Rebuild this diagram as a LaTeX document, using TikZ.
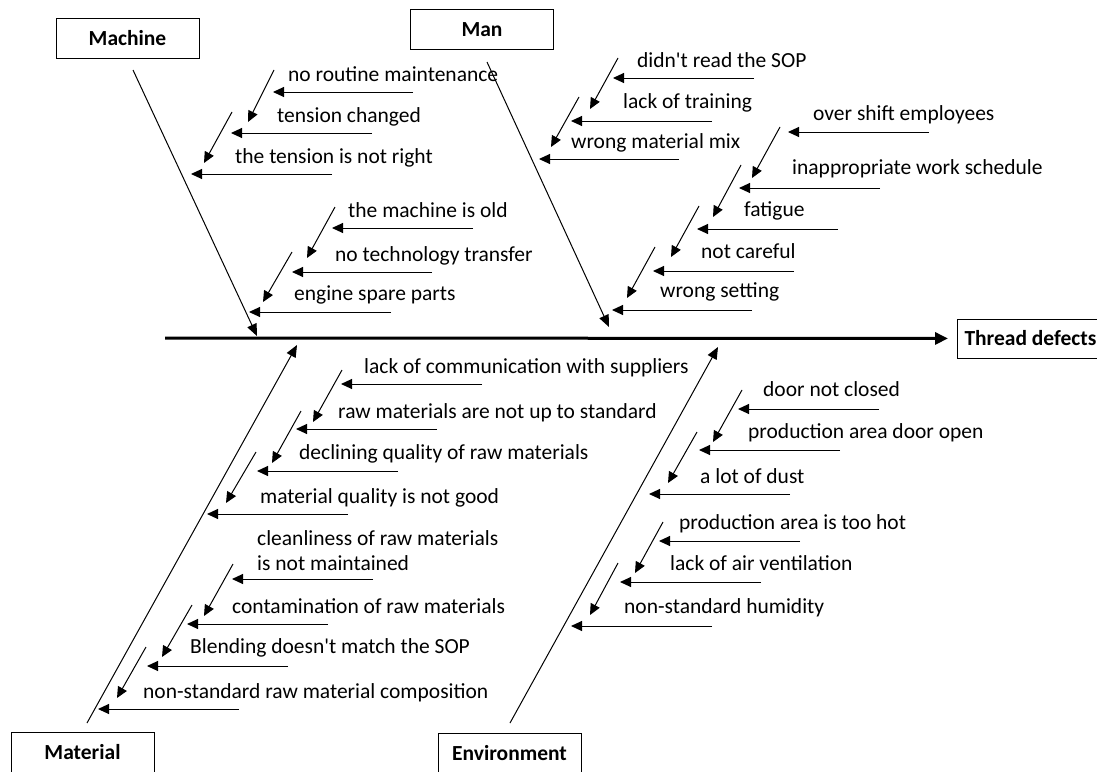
\documentclass[tikz,border=0pt]{standalone}
\usepackage{fontspec}
\setmainfont{Carlito}
\usepackage{tikz}
\usetikzlibrary{arrows.meta}

\begin{document}
\begin{tikzpicture}[
  x=1pt,y=-1pt,
  font=\fontsize{21.5}{25}\selectfont,
  head/.style={draw,line width=1pt,font=\fontsize{21.5}{25}\selectfont\bfseries,minimum width=143pt,minimum height=40pt,inner sep=0pt},
  lbl/.style={anchor=west,inner sep=0pt,text height=14pt,text depth=4pt},
  arr/.style={-{Triangle[length=11pt,width=10pt]},line width=1pt},
  bone/.style={-{Triangle[length=12pt,width=10pt]},line width=1pt},
  spine/.style={-{Triangle[length=13pt,width=12pt]},line width=3pt}
]
  \useasboundingbox (0,0) rectangle (1097,771);

  % category boxes and effect
  \node[head] (machine) at (127.5,38) {Machine};
  \node[head] (man) at (482,29.5) {Man};
  \node[head] (material) at (82.5,752) {Material};
  \node[head] (environment) at (509.5,753) {Environment};
  \node[head,anchor=west,minimum width=0pt,minimum height=39pt,inner xsep=7pt] (effect) at (957,338.5) {Thread defects};

  % main spine and bones
  \coordinate (tail) at (165,338);
  \draw[spine,shorten >=9pt] (tail) -- (effect);
  \coordinate (mcA) at (133,70);  \coordinate (mcB) at (257,336);
  \coordinate (mnA) at (487,62);  \coordinate (mnB) at (609,327);
  \coordinate (mtA) at (87,723);  \coordinate (mtB) at (297,345);
  \coordinate (enA) at (510,723); \coordinate (enB) at (718,347);
  \draw[bone] (mcA) -- (mcB);
  \draw[bone] (mnA) -- (mnB);
  \draw[bone] (mtA) -- (mtB);
  \draw[bone] (enA) -- (enB);

  % Machine
  \node[lbl] (mc1) at (288,76) {no routine maintenance};
  \node[lbl] (mc2) at (277,117) {tension changed};
  \node[lbl] (mc3) at (235,158) {the tension is not right};
  \node[lbl] (mc4) at (348,212) {the machine is old};
  \node[lbl] (mc5) at (335,256) {no technology transfer};
  \node[lbl] (mc6) at (294,295) {engine spare parts};
  \coordinate (mc1s) at (413,92);  \coordinate (mc1e) at (273,92);
  \coordinate (mc2s) at (372,133); \coordinate (mc2e) at (231,133);
  \coordinate (mc3s) at (332,174); \coordinate (mc3e) at (191,174);
  \coordinate (mc4s) at (473,228); \coordinate (mc4e) at (332,228);
  \coordinate (mc5s) at (432,272); \coordinate (mc5e) at (292,272);
  \coordinate (mc6s) at (391,312); \coordinate (mc6e) at (249,312);
  \coordinate (mc1a) at (274,70);  \coordinate (mc1b) at (248,122);
  \coordinate (mc2a) at (232,112); \coordinate (mc2b) at (204,163);
  \coordinate (mc4a) at (335,207); \coordinate (mc4b) at (307,258);
  \coordinate (mc5a) at (292,252); \coordinate (mc5b) at (263,302);
  \draw[arr] (mc1s) -- (mc1e);
  \draw[arr] (mc2s) -- (mc2e);
  \draw[arr] (mc3s) -- (mc3e);
  \draw[arr] (mc4s) -- (mc4e);
  \draw[arr] (mc5s) -- (mc5e);
  \draw[arr] (mc6s) -- (mc6e);
  \draw[arr] (mc1a) -- (mc1b);
  \draw[arr] (mc2a) -- (mc2b);
  \draw[arr] (mc4a) -- (mc4b);
  \draw[arr] (mc5a) -- (mc5b);

  % Man
  \node[lbl] (mn1) at (637,62) {didn\textquotesingle t read the SOP};
  \node[lbl] (mn2) at (623,103) {lack of training};
  \node[lbl] (mn3) at (571,143) {wrong material mix};
  \node[lbl] (mn4) at (813,115) {over shift employees};
  \node[lbl] (mn5) at (792,169) {inappropriate work schedule};
  \node[lbl] (mn6) at (744,211) {fatigue};
  \node[lbl] (mn7) at (701,253) {not careful};
  \node[lbl] (mn8) at (660,292) {wrong setting};
  \coordinate (mn1s) at (754,78);  \coordinate (mn1e) at (613,78);
  \coordinate (mn2s) at (712,121); \coordinate (mn2e) at (571,121);
  \coordinate (mn3s) at (679,159); \coordinate (mn3e) at (539,159);
  \coordinate (mn4s) at (929,132); \coordinate (mn4e) at (788,132);
  \coordinate (mn5s) at (880,188); \coordinate (mn5e) at (739,188);
  \coordinate (mn6s) at (838,229); \coordinate (mn6e) at (697,229);
  \coordinate (mn7s) at (794,271); \coordinate (mn7e) at (653,271);
  \coordinate (mn8s) at (752,310); \coordinate (mn8e) at (612,310);
  \coordinate (mn1a) at (618,58);  \coordinate (mn1b) at (590,109);
  \coordinate (mn2a) at (579,97);  \coordinate (mn2b) at (551,147);
  \coordinate (mn4a) at (780,127); \coordinate (mn4b) at (752,178);
  \coordinate (mn5a) at (741,165); \coordinate (mn5b) at (713,217);
  \coordinate (mn6a) at (699,206); \coordinate (mn6b) at (671,257);
  \coordinate (mn7a) at (655,247); \coordinate (mn7b) at (627,298);
  \draw[arr] (mn1s) -- (mn1e);
  \draw[arr] (mn2s) -- (mn2e);
  \draw[arr] (mn3s) -- (mn3e);
  \draw[arr] (mn4s) -- (mn4e);
  \draw[arr] (mn5s) -- (mn5e);
  \draw[arr] (mn6s) -- (mn6e);
  \draw[arr] (mn7s) -- (mn7e);
  \draw[arr] (mn8s) -- (mn8e);
  \draw[arr] (mn1a) -- (mn1b);
  \draw[arr] (mn2a) -- (mn2b);
  \draw[arr] (mn4a) -- (mn4b);
  \draw[arr] (mn5a) -- (mn5b);
  \draw[arr] (mn6a) -- (mn6b);
  \draw[arr] (mn7a) -- (mn7b);

  % Material
  \node[lbl] (mt1) at (364,368) {lack of communication with suppliers};
  \node[lbl] (mt2) at (338,413) {raw materials are not up to standard};
  \node[lbl] (mt3) at (299,454) {declining quality of raw materials};
  \node[lbl] (mt4) at (260,498) {material quality is not good};
  \node[lbl,text height=,text depth=,align=left] (mt5) at (257,550.5) {cleanliness of raw materials\\is not maintained};
  \node[lbl] (mt6) at (232,608) {contamination of raw materials};
  \node[lbl] (mt7) at (190,648) {Blending doesn\textquotesingle t match the SOP};
  \node[lbl] (mt8) at (143,693) {non-standard raw material composition};
  \coordinate (mt1s) at (482,384); \coordinate (mt1e) at (341,384);
  \coordinate (mt2s) at (437,429); \coordinate (mt2e) at (296,429);
  \coordinate (mt3s) at (398,471); \coordinate (mt3e) at (257,471);
  \coordinate (mt4s) at (348,514); \coordinate (mt4e) at (207,514);
  \coordinate (mt5s) at (373,579); \coordinate (mt5e) at (232,579);
  \coordinate (mt6s) at (328,624); \coordinate (mt6e) at (187,624);
  \coordinate (mt7s) at (288,666); \coordinate (mt7e) at (147,666);
  \coordinate (mt8s) at (239,709); \coordinate (mt8e) at (98,709);
  \coordinate (mt1a) at (342,370); \coordinate (mt1b) at (313,422);
  \coordinate (mt2a) at (301,411); \coordinate (mt2b) at (272,463);
  \coordinate (mt3a) at (256,452); \coordinate (mt3b) at (226,503);
  \coordinate (mt5a) at (233,564); \coordinate (mt5b) at (204,616);
  \coordinate (mt6a) at (192,605); \coordinate (mt6b) at (162,657);
  \coordinate (mt7a) at (146,647); \coordinate (mt7b) at (117,698);
  \draw[arr] (mt1s) -- (mt1e);
  \draw[arr] (mt2s) -- (mt2e);
  \draw[arr] (mt3s) -- (mt3e);
  \draw[arr] (mt4s) -- (mt4e);
  \draw[arr] (mt5s) -- (mt5e);
  \draw[arr] (mt6s) -- (mt6e);
  \draw[arr] (mt7s) -- (mt7e);
  \draw[arr] (mt8s) -- (mt8e);
  \draw[arr] (mt1a) -- (mt1b);
  \draw[arr] (mt2a) -- (mt2b);
  \draw[arr] (mt3a) -- (mt3b);
  \draw[arr] (mt5a) -- (mt5b);
  \draw[arr] (mt6a) -- (mt6b);
  \draw[arr] (mt7a) -- (mt7b);

  % Environment
  \node[lbl] (en1) at (763,391) {door not closed};
  \node[lbl] (en2) at (748,433) {production area door open};
  \node[lbl] (en3) at (700,478) {a lot of dust};
  \node[lbl] (en4) at (679,524) {production area is too hot};
  \node[lbl] (en5) at (670,565) {lack of air ventilation};
  \node[lbl] (en6) at (624,608) {non-standard humidity};
  \coordinate (en1s) at (879,409); \coordinate (en1e) at (738,409);
  \coordinate (en2s) at (840,450); \coordinate (en2e) at (699,450);
  \coordinate (en3s) at (790,494); \coordinate (en3e) at (649,494);
  \coordinate (en4s) at (800,541); \coordinate (en4e) at (659,541);
  \coordinate (en5s) at (761,582); \coordinate (en5e) at (620,582);
  \coordinate (en6s) at (712,626); \coordinate (en6e) at (571,626);
  \coordinate (en1a) at (742,390); \coordinate (en1b) at (713,442);
  \coordinate (en2a) at (697,432); \coordinate (en2b) at (668,483);
  \coordinate (en4a) at (663,522); \coordinate (en4b) at (635,573);
  \coordinate (en5a) at (618,563); \coordinate (en5b) at (590,615);
  \draw[arr] (en1s) -- (en1e);
  \draw[arr] (en2s) -- (en2e);
  \draw[arr] (en3s) -- (en3e);
  \draw[arr] (en4s) -- (en4e);
  \draw[arr] (en5s) -- (en5e);
  \draw[arr] (en6s) -- (en6e);
  \draw[arr] (en1a) -- (en1b);
  \draw[arr] (en2a) -- (en2b);
  \draw[arr] (en4a) -- (en4b);
  \draw[arr] (en5a) -- (en5b);
\end{tikzpicture}
\end{document}
